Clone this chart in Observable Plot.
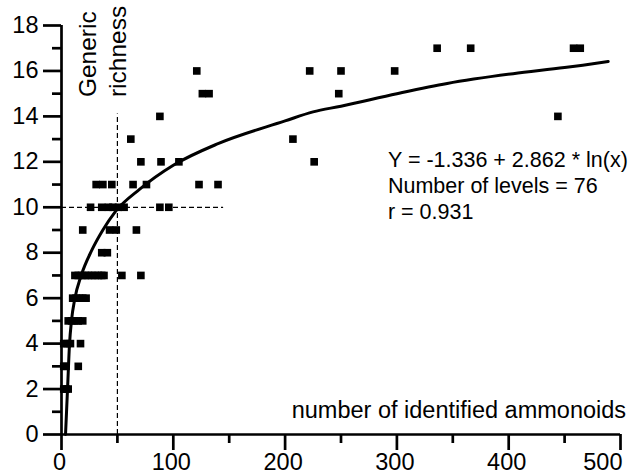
<!DOCTYPE html>
<html>
<head>
<meta charset="utf-8">
<script src="https://cdn.jsdelivr.net/npm/d3@7"></script>
<script src="https://cdn.jsdelivr.net/npm/@observablehq/plot@0.6"></script>
<style>
  html, body { margin: 0; padding: 0; background: #fff; }
  #chart { width: 638px; height: 476px; }
</style>
</head>
<body>
<div id="chart"></div>
<script>
// ---- data ----
// number of identified ammonoids (x) grouped by generic richness (y)
const richnessLevels = [17, 16, 15, 14, 13, 12, 11, 10, 9, 8, 7, 6, 5, 4, 3, 2];
const ammonoidsByLevel = [
  [336, 366, 458, 464],
  [121, 222, 250, 298],
  [126, 132, 248],
  [88, 444],
  [62, 207],
  [71, 89, 105, 226],
  [31, 37, 45, 64, 76, 123, 140],
  [26, 36, 42, 46, 51, 56, 88, 96],
  [19, 43, 49, 67],
  [36, 41],
  [12, 15, 18, 21, 24, 27, 30, 33, 36, 38, 54, 71],
  [10, 13, 16, 19, 22],
  [6, 9, 12, 15, 19],
  [2, 5, 8, 17],
  [2, 4, 15],
  [2, 4, 6]
];
// fitted curve as drawn in the reference
const curveX = [3.6, 5.4, 7.2, 8.9, 12, 17.6, 27, 37, 48, 70, 100, 140, 200, 225, 250, 300, 345, 404, 450, 489];
const curveY = [0, 2, 4, 5, 6, 7, 8.1, 9, 9.8, 10.8, 11.85, 12.8, 13.8, 14.2, 14.45, 15.0, 15.45, 15.88, 16.15, 16.42];
// reference (dashed) lines
const refX = 50, refXTop = 14.1;
const refY = 10, refYEnd = 145;
// axis ticks
const xTicks = [0, 100, 200, 300, 400, 500];
const xMinorTicks = [50, 150, 250, 350, 450];
const yTicks = [0, 2, 4, 6, 8, 10, 12, 14, 16, 18];
const yMinorTicks = [1, 3, 5, 7, 9, 11, 13, 15, 17];
// texts
const xTitle = "number of identified ammonoids";
const yTitle = "Generic\nrichness";
const statsLines = ["Y = -1.336 + 2.862 * ln(x)", "Number of levels = 76", "r = 0.931"];

// ---- build tables ----
const points = [];
richnessLevels.forEach((lvl, i) => ammonoidsByLevel[i].forEach(v => points.push({x: v, y: lvl})));
const curve = curveX.map((v, i) => ({x: v, y: curveY[i]}));
const lastTick = xTicks.slice(-1);
const innerTicks = xTicks.slice(0, -1);

const chart = Plot.plot({
  width: 638,
  height: 476,
  marginLeft: 61,
  marginRight: 18,
  marginTop: 25,
  marginBottom: 42,
  style: {fontFamily: "'Liberation Sans', Arial, sans-serif", color: "black", background: "white"},
  x: {domain: [0, 500], label: null},
  y: {domain: [0, 18], label: null},
  marks: [
    Plot.ruleX([refX], {y1: 0, y2: refXTop, stroke: "black", strokeWidth: 1.2, strokeDasharray: "5,3"}),
    Plot.ruleY([refY], {x1: 0, x2: refYEnd, stroke: "black", strokeWidth: 1.2, strokeDasharray: "5,3"}),
    Plot.dot(points, {x: "x", y: "y", symbol: "square", r: 4.3, fill: "black", stroke: null}),
    Plot.line(curve, {x: "x", y: "y", stroke: "black", strokeWidth: 3, curve: "monotone-x"}),
    Plot.axisX({ticks: xTicks, tickSize: 16, tickFormat: () => "", strokeWidth: 2.7, label: null}),
    Plot.axisX({ticks: xMinorTicks, tickSize: 9, tickFormat: () => "", strokeWidth: 2.7, label: null}),
    Plot.text(innerTicks, {x: (d) => d, text: (d) => String(d), frameAnchor: "bottom", lineAnchor: "top", dy: 19, dx: -2, textAnchor: "middle", fontSize: 23.5, fill: "black"}),
    Plot.text(lastTick, {x: (d) => d, text: (d) => String(d), frameAnchor: "bottom", lineAnchor: "top", dy: 19, dx: 2, textAnchor: "end", fontSize: 23.5, fill: "black"}),
    Plot.axisY({ticks: yTicks, tickSize: 18, tickPadding: 5, fontSize: 23.5, strokeWidth: 2.7, label: null}),
    Plot.axisY({ticks: yMinorTicks, tickSize: 9, tickFormat: () => "", strokeWidth: 2.7, label: null}),
    Plot.ruleY([0], {stroke: "black", strokeWidth: 2.7}),
    Plot.ruleX([0], {stroke: "black", strokeWidth: 2.7}),
    Plot.text([statsLines.join("\n")], {x: 292, y: 11, textAnchor: "start", lineAnchor: "middle", lineHeight: 1.2, fontSize: 21.5, fill: "black"}),
    Plot.text([xTitle], {x: 505, y: 1.05, textAnchor: "end", lineAnchor: "middle", fontSize: 23.5, fill: "black"}),
    Plot.text([yTitle], {x: 35.5, y: 14.85, rotate: -90, textAnchor: "start", lineAnchor: "middle", lineHeight: 1.25, fontSize: 24.5, fill: "black"})
  ]
});
chart.setAttribute("overflow", "visible");
document.getElementById("chart").appendChild(chart);
</script>
</body>
</html>
